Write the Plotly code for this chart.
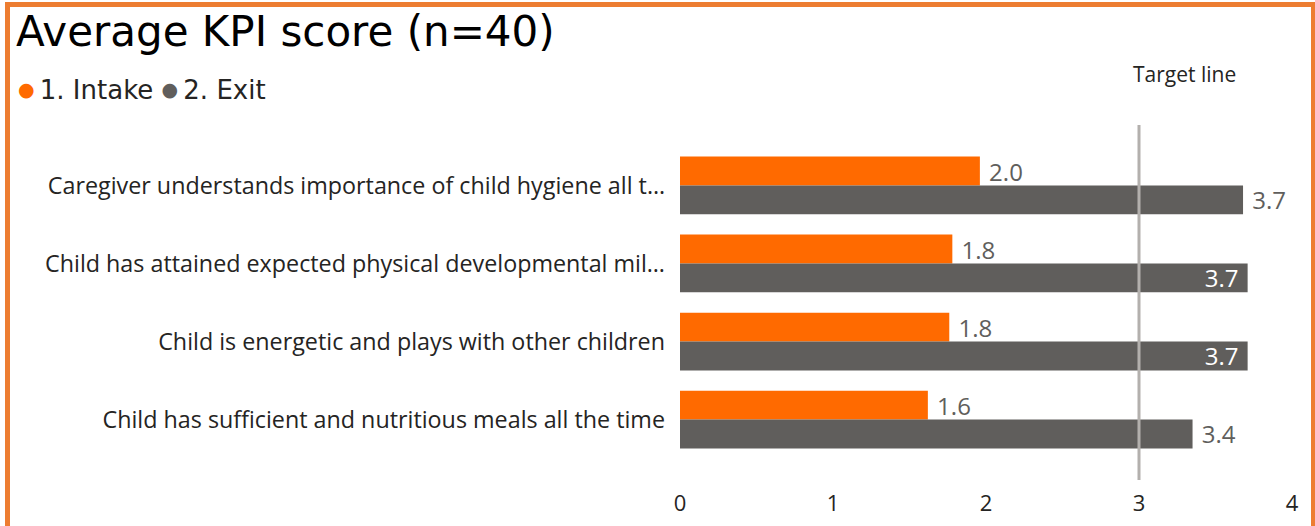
import plotly.graph_objects as go

categories = [
    "Caregiver understands importance of child hygiene all t…",
    "Child has attained expected physical developmental mil…",
    "Child is energetic and plays with other children",
    "Child has sufficient and nutritious meals all the time",
]
intake = [1.96, 1.78, 1.76, 1.62]
exit_vals = [3.68, 3.71, 3.71, 3.35]
series_names = ["1. Intake", "2. Exit"]
target_value = 3
x_ticks = [0, 1, 2, 3, 4]

ORANGE = "#FF6A00"
GREY = "#605E5C"
LABEL_FONT = "Open Sans, sans-serif"
TITLE_FONT = "DejaVu Sans, sans-serif"

W, H = 1315, 526
L, R, T, B = 680, 23, 125, 46
pw, ph = W - L - R, H - T - B


def px_to_paper_x(p):
    return (p - L) / pw


def px_to_paper_y(p):
    return (H - B - p) / ph


exit_positions = ["outside", "inside", "inside", "outside"]
exit_templates = ["\u00a0%{x:.1f}" if p == "outside" else "%{x:.1f}\u00a0" for p in exit_positions]

fig = go.Figure()
fig.add_trace(go.Bar(
    y=categories, x=intake, orientation="h", name=series_names[0],
    marker=dict(color=ORANGE, line=dict(width=0)),
    texttemplate="\u00a0%{x:.1f}", textposition="outside",
    outsidetextfont=dict(family=LABEL_FONT, size=24, color=GREY),
    cliponaxis=False, constraintext="none", showlegend=False,
))
fig.add_trace(go.Bar(
    y=categories, x=exit_vals, orientation="h", name=series_names[1],
    marker=dict(color=GREY, line=dict(width=0)),
    texttemplate=exit_templates, textposition=exit_positions,
    outsidetextfont=dict(family=LABEL_FONT, size=24, color=GREY),
    insidetextfont=dict(family=LABEL_FONT, size=24, color="white"),
    insidetextanchor="end",
    cliponaxis=False, constraintext="none", showlegend=False,
))

dot = "<span style='color:{c};font-size:19px;baseline-shift:3px'>●</span>"

fig.update_layout(
    width=W, height=H,
    margin=dict(l=L, r=R, t=T, b=B, pad=0),
    paper_bgcolor="white", plot_bgcolor="white",
    barmode="group", bargap=0.26, bargroupgap=0,
    title=dict(text="Average KPI score (n=40)", x=16 / W, xanchor="left",
               xref="container", yref="container", y=1 - 17 / H, yanchor="top",
               font=dict(family=TITLE_FONT, size=42, color="#000000")),
    xaxis=dict(range=[0, 4], tickvals=x_ticks, showgrid=False, zeroline=False,
               showline=False, ticks="", fixedrange=True, ticklabelstandoff=8,
               automargin=False,
               tickfont=dict(family=LABEL_FONT, size=22, color="#252423")),
    yaxis=dict(range=[3.775, -0.775], showgrid=False, zeroline=False, showline=False,
               ticks="", ticklabelstandoff=14, fixedrange=True, automargin=False,
               tickfont=dict(family=LABEL_FONT, size=23.3, color="#252423")),
    shapes=[
        dict(type="line", xref="x", yref="paper", x0=target_value, x1=target_value,
             y0=0, y1=1, line=dict(color="#B3B0AD", width=3), layer="above"),
        dict(type="rect", xref="paper", yref="paper",
             x0=px_to_paper_x(7.5), x1=px_to_paper_x(1313.5),
             y0=px_to_paper_y(560), y1=px_to_paper_y(4.5),
             line=dict(color="#ED7D31", width=5), fillcolor="rgba(0,0,0,0)"),
    ],
    annotations=[
        dict(text="Target line", xref="x", yref="paper", x=target_value, xanchor="left",
             xshift=-8, y=px_to_paper_y(74), yanchor="middle", showarrow=False,
             font=dict(family=LABEL_FONT, size=21, color="#252423")),
        dict(text=dot.format(c=ORANGE) + "\u2009" + series_names[0] + "\u00a0"
                  + dot.format(c=GREY) + "\u2009" + series_names[1],
             xref="paper", yref="paper", x=px_to_paper_x(16), xanchor="left",
             y=px_to_paper_y(90), yanchor="middle", showarrow=False,
             font=dict(family=TITLE_FONT, size=26, color="#252423")),
    ],
)

fig.write_html("out.html", config={"displayModeBar": False},
               post_script="document.body.style.margin='0';")
